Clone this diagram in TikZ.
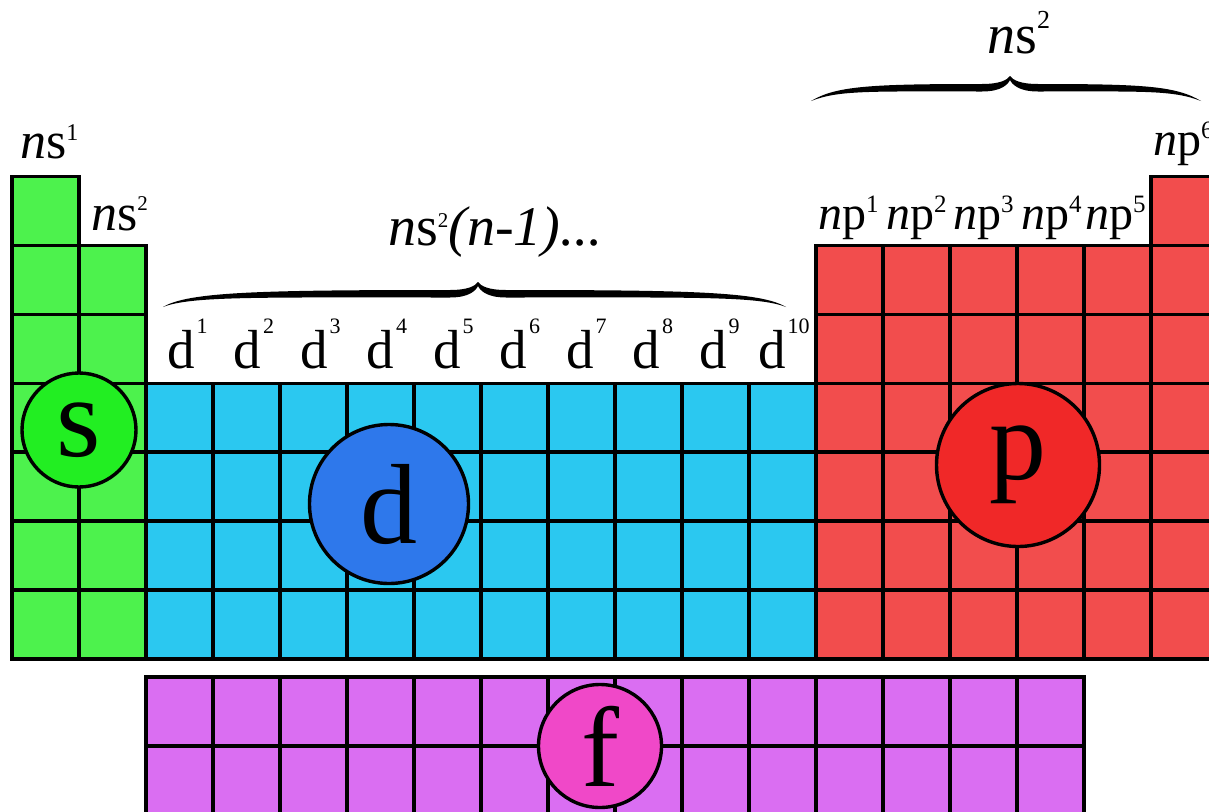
\documentclass[tikz,border=0pt]{standalone}
\usepackage{fontspec}
\setmainfont{Liberation Serif}
\definecolor{scell}{RGB}{77,242,77}
\definecolor{scirc}{RGB}{34,238,34}
\definecolor{dcell}{RGB}{43,200,240}
\definecolor{dcirc}{RGB}{46,120,235}
\definecolor{pcell}{RGB}{242,77,77}
\definecolor{pcirc}{RGB}{240,40,40}
\definecolor{fcell}{RGB}{218,110,242}
\definecolor{fcirc}{RGB}{240,72,200}
\tikzset{
  cell/.style={draw=black, line width=3.4pt},
  blockcirc/.style={circle, draw=black, line width=3.4pt, inner sep=0pt,
    font=\fontsize{114}{114}\selectfont},
  lbl/.style={anchor=base west, inner sep=0pt},
}
% superscript: raise, size, text
\newcommand\mysup[3]{\raisebox{#1pt}{\fontsize{#2}{#2}\selectfont #3}}
% grid block: colour, col from, col to, row from, row to
\newcommand\blk[5]{\foreach \c in {#2,...,#3}{\foreach \r in {#4,...,#5}{%
  \filldraw[cell, fill=#1] ({12+67*\c},{176.5+68.9*\r}) rectangle ++(67,68.9);}}}
% tapered brace: x0, x1, arm y, tip x
\newcommand\tbrace[4]{%
\fill (#1,{#3+13}) .. controls ({#1+25},{#3-2}) and ({#1+0.3*(#4-#1)},{#3-4}) .. ({#4-28},{#3-4})
 .. controls ({#4-10},{#3-4}) and ({#4-3},{#3-8}) .. (#4,{#3-12})
 .. controls ({#4+3},{#3-8}) and ({#4+10},{#3-4}) .. ({#4+28},{#3-4})
 .. controls ({#2-0.3*(#2-#4)},{#3-4}) and ({#2-25},{#3-2}) .. (#2,{#3+13})
 .. controls ({#2-28},{#3+2}) and ({#2-0.3*(#2-#4)},{#3+3.5}) .. ({#4+28},{#3+3.5})
 .. controls ({#4+8},{#3+3.5}) and ({#4+2},{#3-4}) .. (#4,{#3-8})
 .. controls ({#4-2},{#3-4}) and ({#4-8},{#3+3.5}) .. ({#4-28},{#3+3.5})
 .. controls ({#1+0.3*(#4-#1)},{#3+3.5}) and ({#1+28},{#3+2}) .. cycle;}
\begin{document}
\begin{tikzpicture}[x=1pt,y=-1pt]
\useasboundingbox (0,0) rectangle (1209,811);
\clip (0,0) rectangle (1209,811);
\fill[white] (0,0) rectangle (1209,811);
% s block
\blk{scell}{0}{0}{0}{6}
\blk{scell}{1}{1}{1}{6}
% d block
\blk{dcell}{2}{11}{3}{6}
% p block
\blk{pcell}{12}{16}{1}{6}
\blk{pcell}{17}{17}{0}{6}
% f block
\foreach \c in {2,...,15}{\foreach \r in {0,1}{%
  \filldraw[cell, fill=fcell] ({12+67*\c},{677+69*\r}) rectangle ++(67,69);}}
% block circles
\node[blockcirc, fill=scirc, minimum size=114pt] (sc) at (79,430) {s};
\node[blockcirc, fill=dcirc, minimum size=159pt] (dc) at (389,504) {d};
\node[blockcirc, fill=pcirc, minimum size=163pt] (pc) at (1018,465) {p};
\node[blockcirc, fill=fcirc, minimum size=123pt] (fc) at (600,746) {f};
% s labels
\node[lbl, font=\fontsize{52}{52}\selectfont] (ns1) at (20,158) {\textit{n}s\mysup{18}{24}{1}};
\node[lbl, font=\fontsize{52}{52}\selectfont] (ns2) at (91,230) {\textit{n}s\mysup{20}{21}{2}};
% d labels
\node[lbl, font=\fontsize{56}{56}\selectfont] (dtop) at (388,245) {\textit{n}s\mysup{18}{21}{2}\textit{(n-1)...}};
\foreach \k in {1,...,9}{
  \node[lbl, font=\fontsize{55}{55}\selectfont] (d\k) at ({167+66.5*(\k-1)},368) {d\kern2pt\mysup{35}{22}{\k}};}
\node[lbl, font=\fontsize{55}{55}\selectfont] (d10) at (758,368) {d\kern2pt\mysup{35}{22}{10}};
% p labels
\node[lbl, font=\fontsize{56}{56}\selectfont] (ptop) at (987,53) {\textit{n}s\mysup{25}{26}{2}};
\node[lbl, font=\fontsize{48}{48}\selectfont] (np1) at (818,229) {\textit{n}p\mysup{17}{25}{1}};
\node[lbl, font=\fontsize{48}{48}\selectfont] (np2) at (886,229) {\textit{n}p\mysup{17}{25}{2}};
\node[lbl, font=\fontsize{48}{48}\selectfont] (np3) at (953,229) {\textit{n}p\mysup{17}{25}{3}};
\node[lbl, font=\fontsize{48}{48}\selectfont] (np4) at (1021,229) {\textit{n}p\mysup{17}{25}{4}};
\node[lbl, font=\fontsize{48}{48}\selectfont] (np5) at (1085,229) {\textit{n}p\mysup{17}{25}{5}};
\node[lbl, font=\fontsize{48}{48}\selectfont] (np6) at (1153,155) {\textit{n}p\mysup{17}{25}{6}};
% braces
\tbrace{163}{786}{294}{478}
\tbrace{811}{1201}{88}{1010}
\end{tikzpicture}
\end{document}
